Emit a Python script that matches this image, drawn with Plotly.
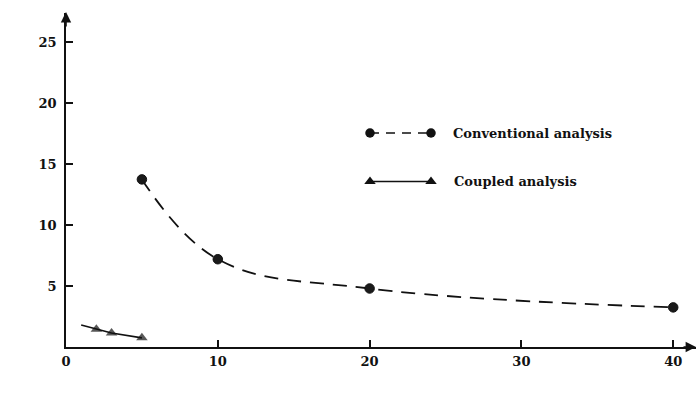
import plotly.graph_objects as go

# ---- data ----
conv_x = [5, 10, 20, 40]
conv_y = [13.75, 7.2, 4.8, 3.25]

coup_line_x = [1, 2, 3, 5]
coup_line_y = [1.8, 1.45, 1.15, 0.75]
coup_marker_on = [False, True, True, True]

x_ticks = [0, 10, 20, 30, 40]
y_ticks = [5, 10, 15, 20, 25]

x_title = "Remoteness factor, <i>β</i>"
y_title = "Error, %"
conv_name = "Conventional analysis"
coup_name = "Coupled analysis"

FONT = "DejaVu Serif"
INK = "#111111"

W, H = 697, 394
ML, MR, MT, MB = 66, 1, 13, 47

fig = go.Figure()

fig.add_trace(go.Scatter(
    x=conv_x, y=conv_y, mode="lines+markers",
    line=dict(color=INK, width=1.8, dash="14px,9px", shape="spline", smoothing=1.1),
    marker=dict(symbol="circle", size=9.5, color="#1a1a1a",
                line=dict(color=INK, width=1)),
    showlegend=False, cliponaxis=False))

fig.add_trace(go.Scatter(
    x=coup_line_x, y=coup_line_y, mode="lines+markers",
    line=dict(color=INK, width=1.6),
    marker=dict(symbol="triangle-up", size=[10 if m else 0 for m in coup_marker_on],
                color=INK, line=dict(width=0)),
    showlegend=False, cliponaxis=False))

# ---- custom legend on a pixel-space overlay axis ----
lg = [(133, conv_name, "circle", "9px,7px", 9.5, 451),
      (181.5, coup_name, "triangle-up", "solid", 10, 452)]
for y, name, sym, dash, ms, tx in lg:
    fig.add_trace(go.Scatter(
        x=[370, 431], y=[y, y], xaxis="x2", yaxis="y2", mode="lines+markers",
        line=dict(color=INK, width=1.6, dash=dash),
        marker=dict(symbol=sym, size=ms, color=INK),
        showlegend=False, hoverinfo="skip", cliponaxis=False))
    fig.add_annotation(x=tx, y=y, xref="x2", yref="y2", text=name, showarrow=False,
                       xanchor="left", yanchor="middle",
                       font=dict(family=FONT, size=13, color=INK, weight="bold"))

# axis titles
fig.add_annotation(x=16, y=185, xref="x2", yref="y2", text=y_title, showarrow=False,
                   textangle=-90, xanchor="center", yanchor="middle",
                   font=dict(family=FONT, size=13, color=INK, weight="bold"))
fig.add_annotation(x=405, y=385, xref="x2", yref="y2", text=x_title, showarrow=False,
                   xanchor="center", yanchor="middle",
                   font=dict(family=FONT, size=13, color=INK, weight="bold"))

# axis arrowheads
fig.add_annotation(x=696, y=347, ax=682, ay=347, xref="x2", yref="y2",
                   axref="x2", ayref="y2", text="", showarrow=True,
                   arrowhead=2, arrowsize=1.3, arrowwidth=1.6, arrowcolor=INK)
fig.add_annotation(x=66, y=12, ax=66, ay=28, xref="x2", yref="y2",
                   axref="x2", ayref="y2", text="", showarrow=True,
                   arrowhead=2, arrowsize=1.3, arrowwidth=1.6, arrowcolor=INK)

axis_common = dict(showgrid=False, zeroline=False, showline=True, linecolor=INK,
                   linewidth=1.6, ticks="inside", ticklen=7, tickwidth=1.5,
                   tickcolor=INK,
                   tickfont=dict(family=FONT, size=13, color=INK, weight="bold"))

fig.update_layout(
    width=W, height=H,
    margin=dict(l=ML, r=MR, t=MT, b=MB),
    paper_bgcolor="white", plot_bgcolor="white",
    xaxis=dict(range=[0, 41.5], tickvals=x_ticks, ticktext=[str(v) for v in x_ticks],
               ticklabelstandoff=2, **axis_common),
    yaxis=dict(range=[0, 27.4], tickvals=y_ticks, ticktext=[str(v) for v in y_ticks],
               ticklabelstandoff=5, **axis_common),
    xaxis2=dict(overlaying="x", range=[ML, W - MR], visible=False, fixedrange=True),
    yaxis2=dict(overlaying="y", range=[H - MB, MT], visible=False, fixedrange=True),
    showlegend=False,
)

fig.write_html("out.html")
